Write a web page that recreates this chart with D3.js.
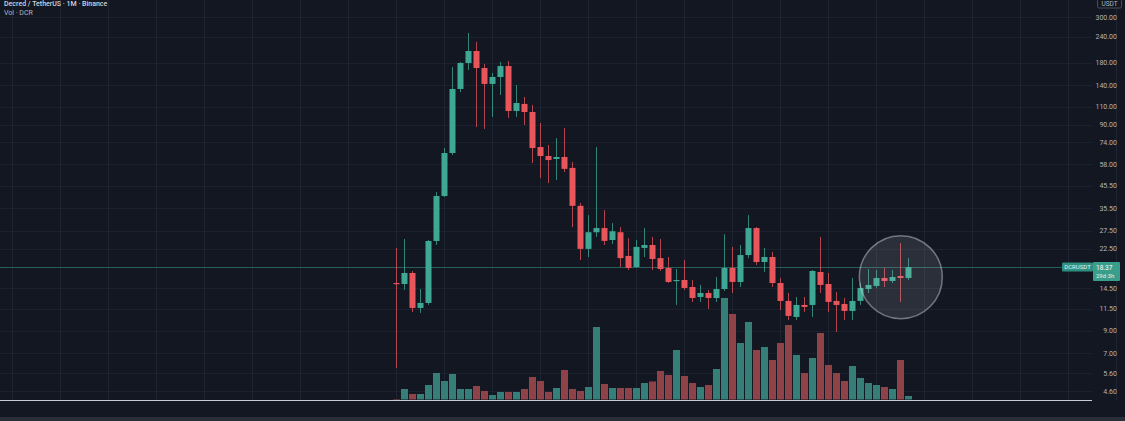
<!DOCTYPE html>
<html>
<head>
<meta charset="utf-8">
<script src="https://cdn.jsdelivr.net/npm/d3@7"></script>
<style>
  html, body { margin: 0; padding: 0; background: #131722; }
  svg { display: block; }
</style>
</head>
<body>
<svg id="chart" width="1125" height="421"></svg>
<script>
// ---- data (monthly candles, DCR/USDT) ----
const months = [
  "2020-07","2020-08","2020-09","2020-10","2020-11","2020-12",
  "2021-01","2021-02","2021-03","2021-04","2021-05","2021-06",
  "2021-07","2021-08","2021-09","2021-10","2021-11","2021-12",
  "2022-01","2022-02","2022-03","2022-04","2022-05","2022-06",
  "2022-07","2022-08","2022-09","2022-10","2022-11","2022-12",
  "2023-01","2023-02","2023-03","2023-04","2023-05","2023-06",
  "2023-07","2023-08","2023-09","2023-10","2023-11","2023-12",
  "2024-01","2024-02","2024-03","2024-04","2024-05","2024-06",
  "2024-07","2024-08","2024-09","2024-10","2024-11","2024-12",
  "2025-01","2025-02","2025-03","2025-04","2025-05","2025-06",
  "2025-07","2025-08","2025-09","2025-10","2025-11"
];
const opens = [
  15.37,15.20,17.19,11.63,12.30,24.58,40.61,65.65,134.27,179.5,
  205.2,169.7,142.0,153.5,173.5,105.0,113.6,103.8,70.2,63.5,
  61.4,62.8,55.6,36.4,22.5,27.1,28.4,24.85,27.1,20.8,
  18.38,22.74,23.5,20.3,18.18,15.72,15.9,14.70,13.15,13.75,
  13.0,14.37,18.18,15.55,21.0,28.4,19.43,20.55,15.37,12.58,
  10.52,12.03,12.03,17.38,15.20,12.58,12.16,11.25,12.58,14.37,
  14.87,16.26,15.72,16.62,16.26
];
const highs = [
  22.74,25.13,17.58,14.37,24.85,42.46,69.42,171.6,181.5,250.9,
  227.0,177.5,160.5,181.5,183.5,140.4,122.8,112.3,91.8,71.8,
  77.6,86.8,59.4,37.6,32.8,70.2,34.7,30.0,28.7,25.4,
  24.85,28.4,25.7,25.13,20.55,17.97,19.87,15.9,15.04,14.22,
  16.44,26.5,23.0,23.5,32.8,28.7,22.74,21.75,16.26,13.75,
  13.15,13.15,17.77,25.7,17.19,13.9,13.0,16.26,15.37,17.97,
  17.77,18.18,17.77,24.0,20.3
];
const lows = [
  5.95,14.22,11.12,11.00,12.03,23.51,40.2,64.21,129.8,165.9,
  87.8,85.9,98.2,125.6,97.1,98.2,89.8,58.7,49.6,46.9,
  48.6,53.1,28.7,19.87,20.55,25.7,23.5,23.8,18.38,17.77,
  18.18,20.55,17.77,17.58,15.37,12.03,14.22,12.44,12.44,11.5,
  12.44,14.06,13.75,14.70,20.3,18.8,17.38,14.70,11.38,10.17,
  10.17,11.12,10.52,13.75,11.12,8.9,10.17,10.17,12.03,13.75,
  14.54,14.70,15.37,12.44,15.9
];
const closes = [
  15.20,17.19,11.63,12.30,24.58,40.61,65.65,134.27,179.5,205.2,
  169.7,142.0,153.5,173.5,105.0,114.8,103.8,69.4,63.5,60.7,
  62.8,55.0,36.4,22.5,27.1,28.4,24.6,27.4,20.3,18.18,
  23.0,23.5,20.1,17.97,15.55,15.9,14.54,13.0,13.75,13.0,
  14.37,18.18,15.55,21.0,28.4,19.43,20.55,15.37,12.58,10.64,
  12.03,11.76,17.58,15.04,12.44,12.03,11.25,12.58,14.54,15.04,
  16.26,15.72,16.44,16.26,18.37
];
// volume in thousand DCR
const volumes = [
  5,105,55,55,145,265,185,255,105,105,
  135,85,45,75,75,75,105,225,185,75,
  115,295,105,85,125,725,155,115,115,115,
  115,165,180,285,245,495,235,165,125,145,
  305,1015,855,565,775,495,525,395,565,745,
  445,265,415,665,345,265,185,335,215,165,
  145,125,105,395,35
];
const priceTicks = [300, 240, 180, 140, 110, 90, 74, 58, 45.5, 35.5, 27.5, 22.5, 14.5, 11.5, 9, 7, 5.6, 4.6];
const lastPrice = 18.37;
const symbol = "DCRUSDT";
const countdown = "29d 3h";
const titleText = "Decred / TetherUS · 1M · Binance";
const volTitle = "Vol · DCR";

// ---- setup ----
const W = 1125, H = 421;
const svg = d3.select("#chart");
const UP = "#3ea894", DOWN = "#e8555b";
const VUP = "#357f78", VDOWN = "#8f4348";

svg.append("rect").attr("width", W).attr("height", H).attr("fill", "#131722");

const x = d3.scaleLinear().domain([0, months.length - 1]).range([396, 908]);
const step = x(1) - x(0);
const y = d3.scaleLog().domain([4.6, 300]).range([391, 17]);
const yv = d3.scaleLinear().domain([0, 1000]).range([399.5, 299.5]);

const candles = months.map((m, i) => ({
  m, i, o: opens[i], h: highs[i], l: lows[i], c: closes[i], v: volumes[i]
}));

// grid
const grid = svg.append("g");
grid.selectAll("line.h").data(priceTicks).join("line")
  .attr("x1", 0).attr("x2", 1092)
  .attr("y1", d => Math.round(y(d)) + 0.5).attr("y2", d => Math.round(y(d)) + 0.5)
  .attr("stroke", "#1c2130").attr("stroke-width", 1);
const vIdx = d3.range(-66, 114, 6);
grid.selectAll("line.v").data(vIdx).join("line")
  .attr("x1", d => Math.round(x(d)) + 0.5).attr("x2", d => Math.round(x(d)) + 0.5)
  .attr("y1", 0).attr("y2", 400)
  .attr("stroke", "#1e2332").attr("stroke-width", 1);

// volume bars
const bw = 7;
svg.append("g").selectAll("rect").data(candles).join("rect")
  .attr("x", d => Math.round(x(d.i) - bw / 2))
  .attr("width", bw)
  .attr("y", d => yv(d.v))
  .attr("height", d => yv(0) - yv(d.v))
  .attr("fill", d => d.c >= d.o ? VUP : VDOWN);

// last price line
svg.append("line")
  .attr("x1", 0).attr("x2", 1062)
  .attr("y1", Math.round(y(lastPrice)) + 0.5).attr("y2", Math.round(y(lastPrice)) + 0.5)
  .attr("stroke", "#2e6f68").attr("stroke-width", 1).attr("opacity", 0.8);

// candles
const cg = svg.append("g");
cg.selectAll("line").data(candles).join("line")
  .attr("x1", d => Math.round(x(d.i)) + 0.5).attr("x2", d => Math.round(x(d.i)) + 0.5)
  .attr("y1", d => y(d.h)).attr("y2", d => y(d.l))
  .attr("stroke", d => d.c >= d.o ? UP : DOWN).attr("stroke-width", 1).attr("opacity", 0.75);
const cw = 6;
cg.selectAll("rect").data(candles).join("rect")
  .attr("x", d => Math.round(x(d.i)) - cw / 2 + 0.5)
  .attr("width", cw)
  .attr("y", d => y(Math.max(d.o, d.c)))
  .attr("height", d => Math.max(1.2, y(Math.min(d.o, d.c)) - y(Math.max(d.o, d.c))))
  .attr("fill", d => d.c >= d.o ? UP : DOWN);

// highlight circle
svg.append("circle")
  .attr("cx", x(63.1)).attr("cy", y(16.4)).attr("r", 41.5)
  .attr("fill", "rgba(200,205,215,0.13)")
  .attr("stroke", "rgba(215,220,228,0.45)").attr("stroke-width", 1.5);

// volume baseline + bottom strip
svg.append("line").attr("x1", 0).attr("x2", 1092).attr("y1", 400.5).attr("y2", 400.5)
  .attr("stroke", "#c9ccd3").attr("stroke-width", 1.2);
svg.append("rect").attr("x", 0).attr("y", 417).attr("width", W).attr("height", 4).attr("fill", "#2a2e39");

// price axis labels
const fmt = d3.format(".2f");
svg.append("g").selectAll("text").data(priceTicks).join("text")
  .attr("x", 1117).attr("y", d => y(d) + 2.5)
  .attr("text-anchor", "end")
  .attr("font-family", "Roboto, 'Liberation Sans', sans-serif")
  .attr("font-size", 7).attr("fill", "#b2b5be")
  .text(d => fmt(d));

// USDT box
svg.append("rect").attr("x", 1097.5).attr("y", -1).attr("width", 24).attr("height", 9)
  .attr("fill", "#131722").attr("stroke", "#4a4e5a").attr("rx", 1.5);
svg.append("text").attr("x", 1109.5).attr("y", 6).attr("text-anchor", "middle")
  .attr("font-family", "Roboto, 'Liberation Sans', sans-serif").attr("font-size", 6.5)
  .attr("fill", "#b2b5be").text("USDT");

// last price labels
const ly = y(lastPrice);
svg.append("rect").attr("x", 1062).attr("y", ly - 4.5).attr("width", 31).attr("height", 9)
  .attr("fill", "#2f8f80").attr("rx", 1);
svg.append("text").attr("x", 1077.5).attr("y", ly + 2.3).attr("text-anchor", "middle")
  .attr("font-family", "Roboto, 'Liberation Sans', sans-serif").attr("font-size", 6)
  .attr("fill", "#e6f3f0").text(symbol);
svg.append("rect").attr("x", 1093).attr("y", ly - 5).attr("width", 27).attr("height", 19)
  .attr("fill", "#3a9e8d").attr("rx", 1);
svg.append("text").attr("x", 1096).attr("y", ly + 2.5)
  .attr("font-family", "Roboto, 'Liberation Sans', sans-serif").attr("font-size", 6.5)
  .attr("fill", "#ffffff").text(fmt(lastPrice));
svg.append("text").attr("x", 1096).attr("y", ly + 11)
  .attr("font-family", "Roboto, 'Liberation Sans', sans-serif").attr("font-size", 6)
  .attr("fill", "#e6f3f0").text(countdown);

// titles
svg.append("text").attr("x", 4).attr("y", 6)
  .attr("font-family", "Roboto, 'Liberation Sans', sans-serif").attr("font-size", 7)
  .attr("font-weight", 500).attr("fill", "#d1d4dc").text(titleText);
svg.append("text").attr("x", 4).attr("y", 14.5)
  .attr("font-family", "Roboto, 'Liberation Sans', sans-serif").attr("font-size", 7)
  .attr("fill", "#b2b5be").text(volTitle);
</script>
</body>
</html>
